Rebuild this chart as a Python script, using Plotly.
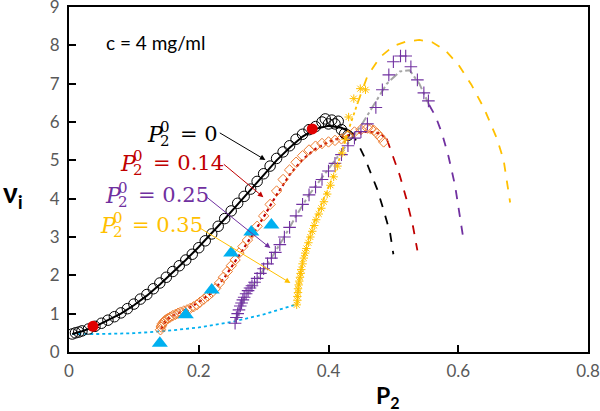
import plotly.graph_objects as go

# ---------------- data ----------------
# P2^0 = 0 (black circles)
circ_x = [0.005, 0.01, 0.015, 0.02, 0.03, 0.04, 0.05, 0.06, 0.07, 0.08, 0.09, 0.10, 0.11, 0.12, 0.13,
          0.14, 0.15, 0.16, 0.17, 0.18, 0.19, 0.20, 0.21, 0.22, 0.23, 0.24, 0.25, 0.26, 0.27, 0.28,
          0.29, 0.30, 0.31, 0.32, 0.33, 0.34, 0.35, 0.36, 0.37, 0.38, 0.39, 0.395, 0.40, 0.405, 0.41,
          0.415, 0.42, 0.425, 0.43]
circ_y = [0.47, 0.50, 0.52, 0.55, 0.60, 0.67, 0.75, 0.83, 0.92, 1.02, 1.13, 1.25, 1.38, 1.50, 1.65,
          1.80, 1.95, 2.10, 2.25, 2.40, 2.55, 2.72, 2.90, 3.08, 3.28, 3.48, 3.68, 3.88, 4.06, 4.25,
          4.45, 4.65, 4.85, 5.05, 5.22, 5.38, 5.55, 5.68, 5.80, 5.88, 6.00, 6.08, 5.95, 6.05, 5.95,
          6.02, 5.80, 5.70, 5.65]
fit0_x = [0.005, 0.02, 0.04, 0.06, 0.08, 0.10, 0.12, 0.14, 0.16, 0.18, 0.20, 0.22, 0.24, 0.26, 0.28,
          0.30, 0.32, 0.34, 0.36, 0.38, 0.40, 0.42, 0.435]
fit0_y = [0.47, 0.54, 0.66, 0.82, 1.00, 1.22, 1.47, 1.76, 2.07, 2.40, 2.74, 3.10, 3.47, 3.85, 4.23,
          4.62, 5.00, 5.33, 5.62, 5.82, 5.90, 5.85, 5.72]
ext0_x = [0.435, 0.445, 0.455, 0.465, 0.475, 0.485, 0.495, 0.50]
ext0_y = [5.72, 5.45, 5.10, 4.70, 4.25, 3.70, 3.10, 2.55]
red_pts_x = [0.037, 0.375]
red_pts_y = [0.67, 5.82]

# P2^0 = 0.14 (orange diamonds)
dia_x = [0.141, 0.142, 0.143, 0.144, 0.146, 0.148, 0.150, 0.153, 0.156, 0.160, 0.164, 0.168, 0.172,
         0.177, 0.182, 0.187, 0.192, 0.197, 0.202, 0.208, 0.214, 0.220, 0.226, 0.232, 0.238, 0.244,
         0.250, 0.256, 0.262, 0.268, 0.275, 0.282, 0.290, 0.300, 0.310, 0.320, 0.330, 0.340, 0.350,
         0.360, 0.370, 0.380, 0.390, 0.400, 0.410, 0.420, 0.430, 0.440, 0.450, 0.460, 0.465, 0.470,
         0.475, 0.480, 0.485]
dia_y = [0.58, 0.65, 0.70, 0.74, 0.78, 0.82, 0.85, 0.88, 0.91, 0.95, 0.98, 1.01, 1.04,
         1.07, 1.10, 1.14, 1.18, 1.23, 1.30, 1.38, 1.46, 1.55, 1.66, 1.80, 1.95, 2.10,
         2.25, 2.40, 2.58, 2.75, 2.92, 3.10, 3.28, 3.55, 3.85, 4.20, 4.50, 4.75, 4.95,
         5.12, 5.27, 5.37, 5.44, 5.48, 5.52, 5.56, 5.65, 5.74, 5.80, 5.84, 5.82, 5.78,
         5.70, 5.60, 5.48]
fit14_x = [0.142, 0.15, 0.16, 0.18, 0.20, 0.22, 0.24, 0.26, 0.28, 0.30, 0.32, 0.34, 0.36, 0.38,
           0.40, 0.42, 0.44, 0.46, 0.48, 0.49]
fit14_y = [0.60, 0.84, 0.95, 1.10, 1.30, 1.55, 1.95, 2.45, 2.98, 3.52, 4.10, 4.62, 5.02, 5.30,
           5.48, 5.60, 5.70, 5.75, 5.70, 5.55]
ext14_x = [0.49, 0.50, 0.51, 0.52, 0.53, 0.537]
ext14_y = [5.55, 5.10, 4.60, 4.00, 3.30, 2.65]

# P2^0 = 0.25 (purple crosses)
crs_x = [0.256, 0.258, 0.260, 0.262, 0.264, 0.266, 0.268, 0.270, 0.273, 0.276, 0.279, 0.282, 0.286,
         0.290, 0.295, 0.300, 0.306, 0.312, 0.318, 0.325, 0.332, 0.340, 0.350, 0.360, 0.370, 0.380,
         0.390, 0.400, 0.410, 0.420, 0.430, 0.440, 0.450, 0.460, 0.473, 0.483, 0.493, 0.500, 0.511,
         0.519, 0.527, 0.537, 0.547, 0.554]
crs_y = [0.75, 0.90, 1.00, 1.10, 1.20, 1.28, 1.36, 1.43, 1.52, 1.60, 1.67, 1.73, 1.82,
         1.92, 2.05, 2.17, 2.30, 2.45, 2.60, 2.80, 3.00, 3.25, 3.55, 3.85, 4.10, 4.30,
         4.50, 4.72, 4.92, 5.15, 5.38, 5.58, 5.75, 5.95, 6.38, 6.84, 7.23, 7.57, 7.72,
         7.72, 7.44, 7.10, 6.76, 6.55]
fit25_x = [0.256, 0.27, 0.29, 0.31, 0.33, 0.35, 0.37, 0.39, 0.41, 0.43, 0.45, 0.47, 0.49, 0.51,
           0.525, 0.54, 0.555]
fit25_y = [0.80, 1.40, 1.90, 2.40, 2.95, 3.55, 4.10, 4.55, 5.00, 5.45, 5.90, 6.45, 7.00, 7.32,
           7.35, 7.00, 6.45]
ext25_x = [0.555, 0.565, 0.575, 0.585, 0.595, 0.60, 0.607]
ext25_y = [6.45, 6.15, 5.70, 5.10, 4.35, 3.80, 3.05]

# P2^0 = 0.35 (yellow asterisks)
ast_x = [0.351, 0.352, 0.352, 0.353, 0.353, 0.354, 0.355, 0.356, 0.357, 0.358, 0.360, 0.362, 0.364,
         0.366, 0.369, 0.372, 0.375, 0.378, 0.381, 0.385, 0.389, 0.393, 0.398, 0.403, 0.408, 0.414,
         0.421, 0.426, 0.431, 0.439, 0.449, 0.457]
ast_y = [1.23, 1.35, 1.45, 1.55, 1.65, 1.75, 1.85, 1.95, 2.05, 2.15, 2.30, 2.45, 2.58,
         2.70, 2.85, 3.00, 3.15, 3.30, 3.45, 3.60, 3.75, 3.92, 4.12, 4.35, 4.57, 4.85,
         5.19, 5.55, 6.13, 6.61, 6.87, 6.84]
fit35_x = [0.352, 0.355, 0.36, 0.37, 0.38, 0.39, 0.40, 0.41, 0.42, 0.43, 0.445]
fit35_y = [1.25, 1.90, 2.40, 3.00, 3.50, 3.90, 4.30, 4.70, 5.20, 5.75, 6.50]
ext35_x = [0.445, 0.46, 0.48, 0.50, 0.52, 0.54, 0.56, 0.58, 0.60, 0.62, 0.64, 0.66, 0.67, 0.68]
ext35_y = [6.50, 7.20, 7.70, 7.98, 8.10, 8.14, 8.08, 7.87, 7.50, 6.98, 6.35, 5.55, 5.00, 3.90]

# onset line and triangles (cyan)
onset_x = [0.005, 0.05, 0.10, 0.15, 0.20, 0.25, 0.30, 0.352]
onset_y = [0.47, 0.47, 0.49, 0.55, 0.64, 0.78, 0.98, 1.25]
tri_x = [0.14, 0.18, 0.22, 0.25, 0.281, 0.312]
tri_y = [0.23, 0.97, 1.62, 2.58, 3.13, 3.31]

# labels
label_values = ["0", "0.14", "0.25", "0.35"]
arrow_tail_x = [0.2301, 0.2363, 0.2100, 0.1992]
arrow_tail_y = [5.74, 4.93, 4.07, 3.26]
arrow_tip_x = [0.3027, 0.2996, 0.3104, 0.3413]
arrow_tip_y = [5.01, 4.04, 2.71, 1.80]

x_ticks = [0, 0.2, 0.4, 0.6, 0.8]
y_ticks = [0, 1, 2, 3, 4, 5, 6, 7, 8, 9]

# ---------------- styles ----------------
BLACK = "#000000"
RED = "#c00000"
ORANGE = "#ed7d31"
PURPLE = "#7030a0"
YELLOW = "#ffc000"
GRAY = "#a5a5a5"
CYAN = "#00b0f0"
label_colors = [BLACK, RED, PURPLE, YELLOW]

fig = go.Figure()

def line(x, y, color, dash, width=1.8):
    fig.add_trace(go.Scatter(x=x, y=y, mode="lines", line=dict(color=color, dash=dash, width=width),
                             showlegend=False, hoverinfo="skip"))

line(onset_x, onset_y, CYAN, "dot", 1.8)
line(fit0_x, fit0_y, BLACK, "solid", 2)
line(ext0_x, ext0_y, BLACK, "dash", 1.8)
line(fit14_x, fit14_y, RED, "dot", 2.2)
line(ext14_x, ext14_y, RED, "dash", 1.8)
line(fit25_x, fit25_y, GRAY, "dashdot", 2)
line(ext25_x, ext25_y, PURPLE, "dash", 1.8)
line(fit35_x, fit35_y, YELLOW, "dot", 1.8)
line(ext35_x, ext35_y, YELLOW, "dash", 1.8)

def pts(x, y, symbol, size, color, lw=1.0, fill=None):
    fig.add_trace(go.Scatter(x=x, y=y, mode="markers",
                             marker=dict(symbol=symbol, size=size, color=fill if fill else color,
                                         line=dict(color=color, width=lw)),
                             showlegend=False, hoverinfo="skip"))

pts(circ_x, circ_y, "circle-open", 10.5, BLACK, 1.0)
pts(dia_x, dia_y, "diamond-open", 8, ORANGE, 1.0)
pts(crs_x, crs_y, "cross-thin-open", 9, PURPLE, 1.1)
pts(ast_x, ast_y, "asterisk-open", 7, YELLOW, 1.0)
pts(tri_x, tri_y, "triangle-up", 14, CYAN, 0, CYAN)
pts(red_pts_x, red_pts_y, "circle", 11, "#e00000", 0, "#e00000")

# ---------------- layout ----------------
L, R, T, B = 69, 12, 7, 59
W, H = 600, 411
pw, ph = W - L - R, H - T - B

def px(xpix):
    return (xpix - L) / pw

def py(ypix):
    return (H - B - ypix) / ph

annotations = []

# arrows
for i in range(len(label_values)):
    annotations.append(dict(x=arrow_tip_x[i], y=arrow_tip_y[i], xref="x", yref="y",
                            ax=arrow_tail_x[i], ay=arrow_tail_y[i], axref="x", ayref="y",
                            text="", showarrow=True, arrowhead=2, arrowsize=1.1, arrowwidth=1,
                            arrowcolor=label_colors[i]))

# P2^0 = value labels
P_left = [145, 118, 103, 98]
eq_left = [178, 151, 136, 130]
cy = [134, 163, 195, 225]
serif = "DejaVu Serif"
for i, v in enumerate(label_values):
    c = label_colors[i]
    annotations.append(dict(x=px(P_left[i]), y=py(cy[i]), xref="paper", yref="paper",
                            xanchor="left", yanchor="middle", text="<i>P</i>", showarrow=False,
                            font=dict(family=serif, size=22, color=c)))
    annotations.append(dict(x=px(P_left[i] + 13), y=py(cy[i] - 7), xref="paper", yref="paper",
                            xanchor="left", yanchor="middle", text="0", showarrow=False,
                            font=dict(family=serif, size=15, color=c)))
    annotations.append(dict(x=px(P_left[i] + 13), y=py(cy[i] + 7), xref="paper", yref="paper",
                            xanchor="left", yanchor="middle", text="2", showarrow=False,
                            font=dict(family=serif, size=15, color=c)))
    annotations.append(dict(x=px(eq_left[i]), y=py(cy[i]), xref="paper", yref="paper",
                            xanchor="left", yanchor="middle", text="=\u00a0" + v, showarrow=False,
                            font=dict(family=serif, size=21, color=c)))

annotations.append(dict(x=px(104), y=py(42), xref="paper", yref="paper", xanchor="left",
                        yanchor="middle", text="c = 4 mg/ml", showarrow=False,
                        font=dict(family="Lato", size=19, color=BLACK)))
annotations.append(dict(x=px(13), y=py(194), xref="paper", yref="paper", xanchor="center",
                        yanchor="middle", text="<b>ν<sub>i</sub></b>", showarrow=False,
                        font=dict(family="Lato", size=28, color=BLACK)))
annotations.append(dict(x=px(388), y=py(396), xref="paper", yref="paper", xanchor="center",
                        yanchor="middle", text="<b>P<sub>2</sub></b>", showarrow=False,
                        font=dict(family="Lato", size=23, color=BLACK)))

axis_common = dict(showline=True, linecolor=BLACK, linewidth=2, mirror=True, ticks="inside",
                   ticklen=7, tickwidth=1.5, tickcolor=BLACK, showgrid=False, zeroline=False,
                   automargin=False, ticklabeloverflow="allow",
                   tickfont=dict(family="Lato", size=17, color="#595959"))

fig.update_layout(
    template="none",
    width=W, height=H,
    margin=dict(l=L, r=R, t=T, b=B, autoexpand=False),
    paper_bgcolor="white", plot_bgcolor="white",
    xaxis=dict(range=[0, 0.8], tickvals=x_ticks, ticktext=[f"{v:g}" for v in x_ticks],
               ticklabelstandoff=3, **axis_common),
    yaxis=dict(range=[0, 9], tickvals=y_ticks, ticktext=[str(v) for v in y_ticks],
               ticklabelstandoff=4, **axis_common),
    annotations=annotations,
    showlegend=False,
)

fig.write_html("out.html", config={"displayModeBar": False},
               post_script="document.body.style.margin='0px';document.body.style.padding='0px';")
